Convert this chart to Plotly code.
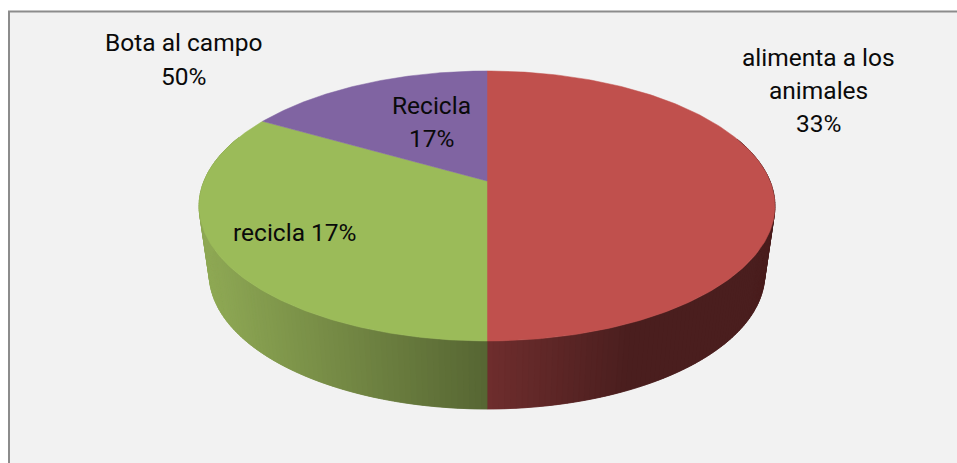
import numpy as np
import plotly.graph_objects as go

categories = ["Bota al campo", "alimenta a los animales", "Recicla"]
values = [50, 33.33, 16.67]
top_colors = ["#c0504d", "#9bbb59", "#8064a2"]
label_lines = ["Bota al campo", "50%", "alimenta a los", "animales", "33%", "Recicla", "17%", "recicla 17%"]

W, H = 957, 463
CX = 487
K = -0.185
TOP = dict(y0=181.0, a=130.4, b=283.0)
BOT = dict(y0=249.0, a=130.4, b=273.0)


def project(theta, disk):
    # theta: clockwise from 12 o'clock
    c = np.sin(theta)
    s = -np.cos(theta)
    d = 1 + K * s
    return CX + disk["b"] * c / d, disk["y0"] + disk["a"] * s / d


def side_color(idx, x):
    if idx == 0:  # red side, lit near the centre then flat dark
        t = np.clip((x - 487) / 150, 0, 1)
        return (112 - 38 * t, 46 - 16 * t, 46 - 16 * t)
    t = np.clip((x - 205) / 282, 0, 1)
    return (142 - 57 * t, 168 - 68 * t, 84 - 34 * t)


fig = go.Figure()
edges = np.cumsum([0] + values) / sum(values) * 2 * np.pi

# side wall: overlapping strips, painted so that each covers the seam of the last
for i in range(len(values)):
    a0, a1 = edges[i], edges[i + 1]
    n = max(2, int((a1 - a0) / np.radians(1.0)))
    th = np.linspace(a0, a1, n + 1)
    order = range(n - 1, -1, -1) if i == 0 else range(n)
    for j in order:
        mid = (th[j] + th[j + 1]) / 2
        if -np.cos(mid) < -0.35:
            continue
        if i == 0:
            seg = th[j:min(j + 3, n + 1)]
        else:
            seg = th[max(j - 1, 0):j + 2]
        xt, yt = project(seg, TOP)
        xb, yb = project(seg, BOT)
        xs = list(xt) + list(xb[::-1]) + [xt[0]]
        ys = list(yt) + list(yb[::-1]) + [yt[0]]
        r, g, b = side_color(i, float(project(np.array([mid]), TOP)[0][0]))
        col = f"rgb({r:.0f},{g:.0f},{b:.0f})"
        fig.add_trace(go.Scatter(x=xs, y=ys, mode="lines", fill="toself", fillcolor=col,
                                 line=dict(color=col, width=0.5), hoverinfo="skip", showlegend=False))

# top face
for i in range(len(values)):
    th = np.linspace(edges[i], edges[i + 1], 200)
    x, y = project(th, TOP)
    cx, cy = project(np.array([0.0]), dict(TOP, b=0, a=0))
    fig.add_trace(go.Scatter(x=[cx[0], *x, cx[0]], y=[cy[0], *y, cy[0]], mode="lines", fill="toself",
                             fillcolor=top_colors[i], line=dict(color=top_colors[i], width=0.5),
                             name=categories[i], hoverinfo="name", showlegend=False))

label_pos = [(183, 42), (183, 76), (818, 57), (818, 90), (818, 123), (431, 105), (431, 138), (295, 232)]
for text, (lx, ly) in zip(label_lines, label_pos):
    fig.add_annotation(x=lx, y=ly, text=text, showarrow=False, align="center",
                       font=dict(family="Roboto", size=24.5, color="#0a0a0a"))

fig.add_shape(type="rect", x0=9, y0=11.5, x1=990, y1=500, layer="below",
              fillcolor="#f2f2f2", line=dict(color="#8c8c8c", width=2))

fig.update_layout(
    width=W, height=H, margin=dict(l=0, r=0, t=0, b=0),
    paper_bgcolor="white", plot_bgcolor="white", showlegend=False,
    xaxis=dict(range=[0, W], visible=False, fixedrange=True),
    yaxis=dict(range=[H, 0], visible=False, fixedrange=True),
)
fig.write_html("out.html", config=dict(displayModeBar=False),
               post_script="document.body.style.margin='0';document.body.style.overflow='hidden';")
